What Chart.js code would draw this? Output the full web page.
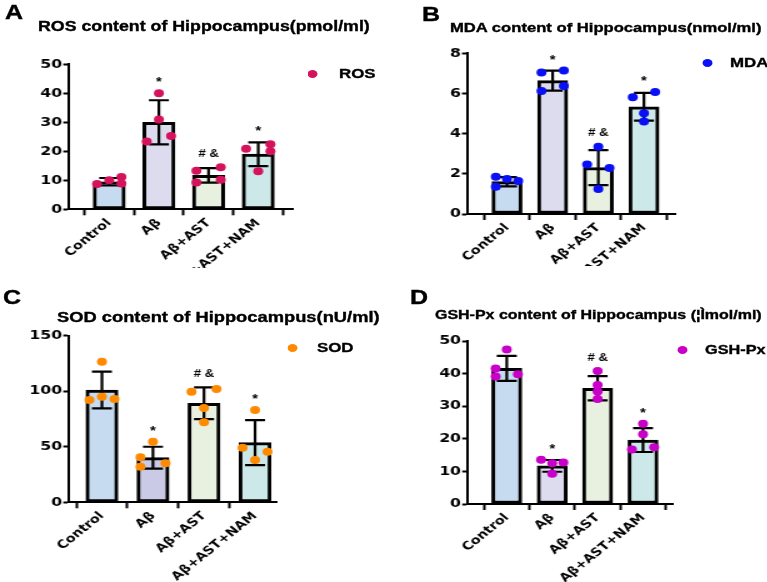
<!DOCTYPE html>
<html><head><meta charset="utf-8">
<script src="https://cdn.jsdelivr.net/npm/chart.js@4"></script>
<style>
html,body{margin:0;padding:0;background:#fff;overflow:hidden;width:767px;height:582px}
#fig{position:absolute;left:0;top:0;width:613.6px;height:582px;transform:scaleX(1.25);transform-origin:0 0;font-family:"Liberation Sans",Arial,sans-serif;font-weight:bold;color:#000}
canvas{position:absolute}
.txt{position:absolute;white-space:nowrap;line-height:1;font-weight:bold;-webkit-text-stroke:0.35px #000}
.dot{position:absolute;border-radius:50%}
</style></head><body>
<div id="fig">
  <canvas id="cA" width="300" height="268" style="left:0px;top:0px;width:300px;height:268px"></canvas>
  <canvas id="cB" width="304" height="266" style="left:310px;top:0px;width:304px;height:266px"></canvas>
  <canvas id="cC" width="300" height="302" style="left:0px;top:280px;width:300px;height:302px"></canvas>
  <canvas id="cD" width="304" height="302" style="left:310px;top:280px;width:304px;height:302px"></canvas>
</div>
<script>
// ---------- data ----------
const categories = ["Control", "Aβ", "Aβ+AST", "Aβ+AST+NAM"];

const rosMean = [9.5, 30.0, 11.7, 19.0];
const rosSD = [1.3, 7.6, 2.5, 4.1];
const rosPoints = [[8.7, 10.0, 11.1, 8.9], [40.0, 31.0, 23.4, 25.3], [13.3, 14.5, 9.2, 10.2], [20.9, 22.4, 20.0, 13.1]];
const rosMarks = ["", "*", "# &", "*"];
const rosTicks = [0, 10, 20, 30, 40, 50];

const mdaMean = [1.61, 6.64, 2.31, 5.34];
const mdaSD = [0.23, 0.50, 0.87, 0.69];
const mdaPoints = [[1.86, 1.74, 1.64, 1.36], [7.04, 7.14, 6.12, 6.37], [3.35, 2.46, 2.29, 1.24], [5.81, 6.07, 5.01, 4.61]];
const mdaMarks = ["", "*", "# &", "*"];
const mdaTicks = [0, 2, 4, 6, 8];

const sodMean = [101.1, 40.2, 89.1, 53.7];
const sodSD = [16.5, 9.8, 14.3, 20.3];
const sodPoints = [[126.6, 92.1, 95.1, 93.0], [54.6, 40.5, 32.1, 35.1], [99.6, 102.0, 84.9, 72.0], [83.1, 49.2, 45.6, 38.1]];
const sodMarks = ["", "*", "# &", "*"];
const sodTicks = [0, 50, 100, 150];

const gshMean = [41.6, 11.7, 35.5, 19.6];
const gshSD = [3.85, 1.8, 3.7, 3.65];
const gshPoints = [[47.4, 41.6, 39.1, 39.8], [13.6, 12.5, 12.7, 9.3], [40.8, 36.5, 34.5, 32.2], [24.6, 21.4, 16.7, 17.4]];
const gshMarks = ["", "*", "# &", "*"];
const gshTicks = [0, 10, 20, 30, 40, 50];

// horizontal jitter column of each replicate dot (-1 left, 0 centre, 1 right)
const rosJitter = [[-1, 0, 1, 1], [0, 0, -1, 1], [-1, 1, -1, 1], [-1, 1, 1, 0]];
const mdaJitter = [[-1, 0, 1, -1], [-1, 1, -1, 1], [0, -1, 1, 0], [-1, 1, 0, 0]];
const sodJitter = [[0, -1, 0, 1], [0, -1, -1, 1], [-1, 1, 0, 0], [0, -1, 1, 0]];
const gshJitter = [[0, -1, -1, 1], [-1, 0, 1, 0], [0, 0, 0, 0], [0, 0, -1, 1]];

// ---------- styling / layout ----------
const FONT = '"Liberation Sans", Arial, sans-serif';
const TICKFONT = '"DejaVu Sans", sans-serif';
const fillsA = ['#c6dbef', '#dcdcee', '#e8f1e0', '#cde8e8'];
const fillsC = ['#c6dbef', '#cbcae6', '#e8f1e0', '#cde8e8'];
const JIT = 0.245;

const panels = [
  {id: 'cA', name: 'ROS', mean: rosMean, sd: rosSD, pts: rosPoints, jit: rosJitter, marks: rosMarks, ticks: rosTicks,
   color: '#d5135d', fills: fillsA, xmin: -0.825, xmax: 3.70, barW: 25.6, yW: 54.6, padTop: 64.3, padRight: 65.6, xH: 58.7},
  {id: 'cB', name: 'MDA', mean: mdaMean, sd: mdaSD, pts: mdaPoints, jit: mdaJitter, marks: mdaMarks, ticks: mdaTicks,
   color: '#0a10f5', fills: fillsA, xmin: -0.876, xmax: 3.68, barW: 24, yW: 63.6, padTop: 53.3, padRight: 74, xH: 52},
  {id: 'cC', name: 'SOD', mean: sodMean, sd: sodSD, pts: sodPoints, jit: sodJitter, marks: sodMarks, ticks: sodTicks,
   color: '#ff8a00', fills: fillsC, xmin: -0.66, xmax: 3.43, barW: 25.6, yW: 54.6, padTop: 55.7, padRight: 78.4, xH: 79.7},
  {id: 'cD', name: 'GSH-Px', mean: gshMean, sd: gshSD, pts: gshPoints, jit: gshJitter, marks: gshMarks, ticks: gshTicks,
   color: '#c800c8', fills: fillsA, xmin: -0.87, xmax: 3.66, barW: 24, yW: 63.8, padTop: 61, padRight: 75.6, xH: 78}
];

function makePlugin(p) {
  return {
    id: 'errbars',
    afterDatasetDraw(chart, args) {
      if (args.index !== 1) return;
      const ctx = chart.ctx, xs = chart.scales.x, ys = chart.scales.y;
      ctx.save();
      ctx.strokeStyle = '#000';
      ctx.lineWidth = 2.2;
      const cap = 8;
      p.mean.forEach((m, i) => {
        const px = xs.getPixelForValue(i);
        const t = ys.getPixelForValue(m + p.sd[i]);
        const b = ys.getPixelForValue(m - p.sd[i]);
        ctx.beginPath();
        ctx.moveTo(px, t); ctx.lineTo(px, b);
        ctx.moveTo(px - cap, t); ctx.lineTo(px + cap, t);
        ctx.moveTo(px - cap, b); ctx.lineTo(px + cap, b);
        ctx.stroke();
      });
      ctx.restore();
    },
    afterDatasetsDraw(chart) {
      const ctx = chart.ctx, xs = chart.scales.x, ys = chart.scales.y;
      ctx.save();
      ctx.fillStyle = '#000';
      ctx.textAlign = 'center';
      ctx.textBaseline = 'alphabetic';
      p.marks.forEach((mk, i) => {
        if (!mk) return;
        const top = Math.min(ys.getPixelForValue(p.mean[i] + p.sd[i]), ys.getPixelForValue(Math.max(...p.pts[i])));
        const c = top - 14;
        const fs = mk === '*' ? 12 : 10.5;
        ctx.font = 'bold ' + fs + 'px ' + FONT;
        const off = mk === '*' ? 0.58 : 0.36;
        ctx.fillText(mk, xs.getPixelForValue(i), c + off * fs);
      });
      ctx.restore();
    }
  };
}

panels.forEach(p => {
  const scatterData = [];
  p.pts.forEach((arr, i) => arr.forEach((v, k) => scatterData.push({x: i + p.jit[i][k] * JIT, y: v})));
  const barData = p.mean.map((m, i) => ({x: i, y: m}));
  new Chart(document.getElementById(p.id), {
    type: 'bar',
    data: {
      datasets: [
        {type: 'scatter', label: p.name, data: scatterData, backgroundColor: p.color, borderWidth: 0,
         pointRadius: 4, pointHoverRadius: 4, clip: false},
        {type: 'bar', label: p.name + ' mean', data: barData, backgroundColor: p.fills, borderColor: '#000',
         borderWidth: 3, borderSkipped: false, barThickness: p.barW, clip: false}
      ]
    },
    options: {
      responsive: false,
      animation: false,
      events: [],
      layout: {padding: {top: p.padTop, right: p.padRight, left: 0, bottom: 0}},
      plugins: {legend: {display: false}, title: {display: false}, tooltip: {enabled: false}},
      scales: {
        x: {
          type: 'linear', min: p.xmin, max: p.xmax, offset: false,
          afterBuildTicks: s => { s.ticks = categories.map((c, i) => ({value: i})); },
          ticks: {autoSkip: false, minRotation: 45, maxRotation: 45, color: '#000', font: {family: TICKFONT, weight: 'bold', size: 11.5}, padding: 1,
                  callback: v => categories[v]},
          grid: {drawOnChartArea: false, drawTicks: true, tickLength: 6, tickWidth: 2, tickColor: '#000', color: '#000'},
          border: {display: true, color: '#000', width: 2},
          afterFit: s => { s.height = p.xH; s.paddingLeft = 0; s.paddingRight = 0; }
        },
        y: {
          min: p.ticks[0], max: p.ticks[p.ticks.length - 1],
          afterBuildTicks: s => { s.ticks = p.ticks.map(v => ({value: v})); },
          ticks: {color: '#000', font: {family: TICKFONT, weight: 'bold', size: 12.5}, padding: 1},
          grid: {drawOnChartArea: false, drawTicks: true, tickLength: 4, tickWidth: 2, tickColor: '#000', color: '#000'},
          border: {display: true, color: '#000', width: 2},
          afterFit: s => { s.width = p.yW; s.paddingTop = 0; s.paddingBottom = 0; }
        }
      }
    },
    plugins: [makePlugin(p)]
  });
});

// ---------- HTML text (panel letters, titles, legends) ----------
const fig = document.getElementById('fig');
function addText(str, left, capTop, fs, targetW) {
  const d = document.createElement('div');
  d.className = 'txt';
  d.textContent = str;
  d.style.fontSize = fs + 'px';
  d.style.left = left + 'px';
  fig.appendChild(d);
  if (targetW) {
    const w = d.getBoundingClientRect().width / 1.25;
    fs = fs * targetW / w;
    d.style.fontSize = fs + 'px';
  }
  d.style.top = (capTop - 0.13 * fs) + 'px';
  return d;
}
function addLegend(name, color, dotX, cy, textX, fs) {
  const r = 4;
  const s = document.createElement('div');
  s.className = 'dot';
  s.style.left = (dotX - r) + 'px'; s.style.top = (cy - r) + 'px';
  s.style.width = 2 * r + 'px'; s.style.height = 2 * r + 'px';
  s.style.background = color;
  fig.appendChild(s);
  const d = document.createElement('div');
  d.className = 'txt';
  d.textContent = name;
  d.style.fontSize = fs + 'px';
  d.style.left = textX + 'px';
  d.style.top = (cy - 0.488 * fs) + 'px';
  fig.appendChild(d);
}
addText('A', 4, 5, 20);
addText('B', 337.6, 7, 20);
addText('C', 2.4, 289.5, 20);
addText('D', 328, 290, 20);
addText('ROS content of Hippocampus(pmol/ml)', 30.4, 20.7, 14, 265.6);
addText('MDA content of Hippocampus(nmol/ml)', 360, 22.7, 14, 249.6);
addText('SOD content of Hippocampus(nU/ml)', 45.6, 311.7, 14, 258.4);
addText('GSH-Px content of Hippocampus (¦Ìmol/ml)', 348, 311, 14, 261.6);
addLegend('ROS', panels[0].color, 250.4, 74, 271.2, 13.5);
addLegend('MDA', panels[1].color, 565.6, 62.5, 584, 13.5);
addLegend('SOD', panels[2].color, 233.6, 348, 253.6, 13.5);
addLegend('GSH-Px', panels[3].color, 546.4, 349.7, 564, 13);
</script>
</body></html>
